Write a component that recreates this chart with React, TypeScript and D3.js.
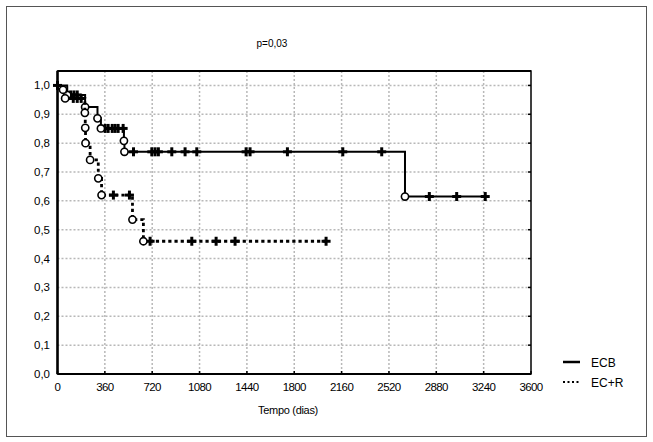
import React from "react";
import * as d3 from "d3";

// Kaplan-Meier curves (days, survival)
const ecbEventDays = [74, 210, 304, 330, 505, 509, 2642];
const ecbEventSurv = [0.967, 0.925, 0.886, 0.851, 0.808, 0.77, 0.615];
const ecbCensorDays = [
  0, 100, 125, 150, 362, 385, 416, 438, 461, 499, 578, 717, 742, 767, 869,
  970, 1059, 1434, 1464, 1748, 2169, 2465, 2827, 3035, 3252,
];

const ecrEventDays = [42, 58, 208, 211, 213, 248, 310, 335, 570, 653];
const ecrEventSurv = [0.985, 0.955, 0.905, 0.853, 0.8, 0.742, 0.678, 0.62, 0.535, 0.46];
const ecrCensorDays = [120, 150, 180, 425, 547, 704, 1021, 1206, 1350, 2042];

const xTicks = [0, 360, 720, 1080, 1440, 1800, 2160, 2520, 2880, 3240, 3600];
const yTicks = [0, 0.1, 0.2, 0.3, 0.4, 0.5, 0.6, 0.7, 0.8, 0.9, 1.0];

const seriesNames = ["ECB", "EC+R"];
const titleText = "p=0,03";
const xTitle = "Tempo (dias)";

const W = 653;
const H = 442;
const plot = { left: 57.5, right: 531, top: 71, bottom: 374 };
const font = "'Liberation Sans', Arial, sans-serif";

const survAt = (days: number[], surv: number[], t: number) => {
  let s = 1;
  days.forEach((d, i) => {
    if (d <= t) s = surv[i];
  });
  return s;
};

export default function App() {
  const x = d3.scaleLinear().domain([0, 3600]).range([plot.left, plot.right]);
  const y = d3.scaleLinear().domain([0, 1.05]).range([plot.bottom, plot.top]);

  const stepLine = d3
    .line<[number, number]>()
    .x((d) => x(d[0]))
    .y((d) => y(d[1]))
    .curve(d3.curveStepAfter);

  const buildPath = (days: number[], surv: number[], censor: number[]) => {
    const pts: [number, number][] = [[0, 1]];
    days.forEach((d, i) => pts.push([d, surv[i]]));
    const end = d3.max(censor) as number;
    pts.push([end, survAt(days, surv, end)]);
    return stepLine(pts) || "";
  };

  const series = [
    {
      name: seriesNames[0],
      days: ecbEventDays,
      surv: ecbEventSurv,
      censor: ecbCensorDays,
      dash: null as string | null,
      width: 2,
    },
    {
      name: seriesNames[1],
      days: ecrEventDays,
      surv: ecrEventSurv,
      censor: ecrCensorDays,
      dash: "3.2,3",
      width: 2.8,
    },
  ];

  const cross = 4.5;

  return (
    <svg
      width={W}
      height={H}
      style={{ position: "absolute", left: 0, top: 0, background: "#fff" }}
      fontFamily={font}
    >
      <rect x={6.5} y={6.5} width={640} height={430} fill="none" stroke="#555" strokeWidth={1} />

      <text x={272} y={47} textAnchor="middle" fontSize={10}>
        {titleText}
      </text>

      {/* grid */}
      {yTicks.slice(1).map((t) => (
        <line
          key={"gy" + t}
          x1={plot.left}
          x2={plot.right}
          y1={y(t)}
          y2={y(t)}
          stroke="#b8b8b8"
          strokeWidth={1.5}
          strokeDasharray="2,2"
        />
      ))}
      {xTicks.slice(1, -1).map((t) => (
        <line
          key={"gx" + t}
          x1={x(t)}
          x2={x(t)}
          y1={plot.top}
          y2={plot.bottom}
          stroke="#b8b8b8"
          strokeWidth={1.5}
          strokeDasharray="2,2"
        />
      ))}

      {/* inner ticks on right and bottom */}
      {yTicks.map((t) => (
        <line key={"ry" + t} x1={plot.right - 3} x2={plot.right} y1={y(t)} y2={y(t)} stroke="#000" strokeWidth={1.5} />
      ))}
      {xTicks.map((t) => (
        <line key={"bx" + t} x1={x(t)} x2={x(t)} y1={plot.bottom - 3} y2={plot.bottom} stroke="#000" strokeWidth={1.5} />
      ))}

      {/* frame */}
      <rect
        x={plot.left}
        y={plot.top}
        width={plot.right - plot.left}
        height={plot.bottom - plot.top}
        fill="none"
        stroke="#000"
        strokeWidth={1.5}
      />
      <line x1={plot.left} x2={plot.left} y1={plot.top} y2={plot.bottom} stroke="#000" strokeWidth={2.5} />
      <line x1={plot.left} x2={plot.right} y1={plot.top} y2={plot.top} stroke="#000" strokeWidth={2} />
      <line x1={plot.left} x2={plot.right} y1={plot.bottom} y2={plot.bottom} stroke="#000" strokeWidth={2} />

      {/* tick labels */}
      {yTicks.map((t) => (
        <text key={"yl" + t} x={50} y={y(t) + 4} textAnchor="end" fontSize={11.5}>
          {t.toFixed(1).replace(".", ",")}
        </text>
      ))}
      {xTicks.map((t) => (
        <text key={"xl" + t} x={x(t)} y={391} textAnchor="middle" fontSize={11.5} letterSpacing={-0.6}>
          {t}
        </text>
      ))}
      <text x={288} y={414} textAnchor="middle" fontSize={11} letterSpacing={-0.3}>
        {xTitle}
      </text>

      {/* curves */}
      {series.map((s) => (
        <g key={s.name}>
          <path
            d={buildPath(s.days, s.surv, s.censor)}
            fill="none"
            stroke="#000"
            strokeWidth={s.width}
            strokeDasharray={s.dash || undefined}
          />
          {s.censor.map((c, i) => {
            const cx = x(c);
            const cy = y(survAt(s.days, s.surv, c));
            return (
              <g key={"c" + i} stroke="#000" strokeWidth={3}>
                <line x1={cx - cross} x2={cx + cross} y1={cy} y2={cy} />
                <line x1={cx} x2={cx} y1={cy - cross} y2={cy + cross} />
              </g>
            );
          })}
          {s.days.map((d, i) => (
            <circle
              key={"e" + i}
              cx={x(d)}
              cy={y(s.surv[i])}
              r={3.6}
              fill="#fff"
              stroke="#000"
              strokeWidth={1.6}
            />
          ))}
        </g>
      ))}

      {/* legend */}
      {series.map((s, i) => (
        <g key={"lg" + s.name} transform={`translate(563, ${362 + i * 20})`}>
          <line
            x1={0}
            x2={17}
            y1={0}
            y2={0}
            stroke="#000"
            strokeWidth={s.dash ? 2 : 2.5}
            strokeDasharray={s.dash ? "2,2.5" : undefined}
          />
          <text x={28} y={4.5} fontSize={12}>
            {s.name}
          </text>
        </g>
      ))}
    </svg>
  );
}
